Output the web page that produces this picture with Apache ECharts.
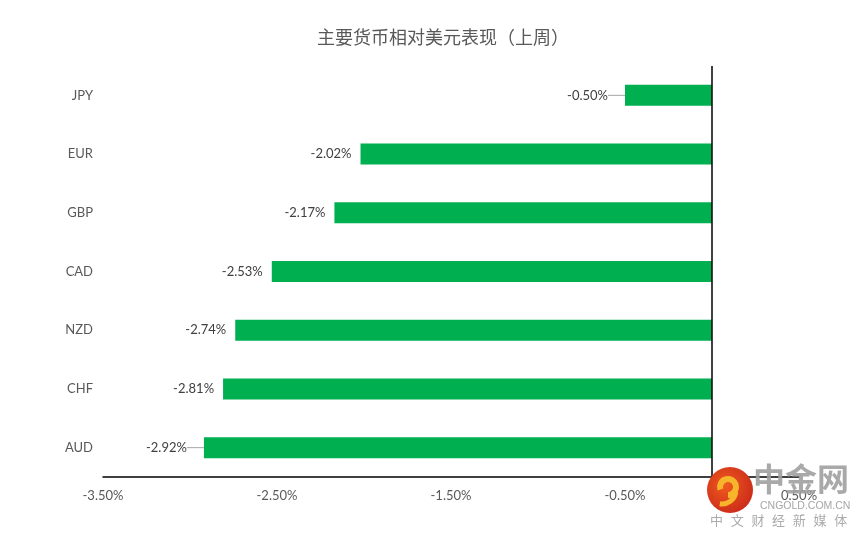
<!DOCTYPE html>
<html><head><meta charset="utf-8">
<script src="https://cdn.jsdelivr.net/npm/echarts@6/dist/echarts.min.js"></script>
<style>html,body{margin:0;padding:0;background:#fff}#c{width:864px;height:539px}</style>
</head><body><div id="c"></div>
<script>
var titleText = '主要货币相对美元表现（上周）';
var categories = ['AUD','CHF','NZD','CAD','GBP','EUR','JPY'];
var values = [-2.92,-2.81,-2.74,-2.53,-2.17,-2.02,-0.50];
var leaderCats = ['AUD','JPY'];
var xMin = -3.5, xMax = 0.5, xStep = 1;

var chart = echarts.init(document.getElementById('c'));
var font = 'Lato, "Noto Sans CJK SC", sans-serif';
var barData = values.map(function(v,i){
  var lead = leaderCats.indexOf(categories[i]) >= 0;
  return {value:v, label:{distance: lead ? 5 : 9}, labelLine:{show:lead}};
});
var wm = '中文财经新媒体'.split('').map(function(ch,i){
  return {type:'text',left:710+i*20.7,top:514,style:{text:ch,fontSize:13,fill:'#ababab',fontFamily:'"Noto Sans CJK SC", sans-serif'},z:100};
});
chart.setOption({
  animation:false,
  title:{text:titleText,left:438,top:23,textAlign:'center',
    textStyle:{fontSize:18,fontWeight:'normal',color:'#595959',fontFamily:'"Noto Sans CJK SC", sans-serif'}},
  grid:{left:103,right:65,top:66,bottom:62,containLabel:false},
  xAxis:{type:'value',min:xMin,max:xMax,interval:xStep,
    axisLine:{show:true,onZero:false,lineStyle:{color:'#000',width:1.5}},
    axisTick:{show:false},splitLine:{show:false},
    axisLabel:{margin:12,color:'#595959',fontSize:13,fontFamily:font,
      formatter:function(v){return v.toFixed(2)+'%';}}},
  yAxis:{type:'category',data:categories,
    axisLine:{show:false},axisTick:{show:false},
    axisLabel:{margin:10,color:'#595959',fontSize:13,fontFamily:font}},
  series:[{type:'bar',data:barData,barWidth:21,
    itemStyle:{color:'#00B050'},
    label:{show:true,position:'left',color:'#404040',fontSize:13,fontFamily:font,
      formatter:function(p){return p.value.toFixed(2)+'%';}},
    labelLayout:function(p){
      return leaderCats.indexOf(categories[p.dataIndex]) >= 0 ? {dx:-12} : {};
    },
    labelLine:{lineStyle:{color:'#a6a6a6',width:1}},
    markLine:{silent:true,symbol:'none',label:{show:false},
      lineStyle:{color:'#000',width:1.5,type:'solid'},data:[{xAxis:0}]}
  }],
  graphic:[
    {type:'circle',shape:{cx:730,cy:490,r:23},style:{fill:{type:'radial',x:0.4,y:0.4,r:0.7,colorStops:[{offset:0,color:'#f05a1e'},{offset:1,color:'#c8281a'}]}},z:100},
    {type:'arc',shape:{cx:728,cy:487,r:8,startAngle:Math.PI*0.9,endAngle:Math.PI*2.5},style:{stroke:'#f7b52c',lineWidth:6,fill:null},z:101},
    {type:'arc',shape:{cx:722,cy:490,r:14,startAngle:Math.PI*0.05,endAngle:Math.PI*0.55},style:{stroke:'#f7b52c',lineWidth:5,fill:null},z:101},
    {type:'text',left:753,top:463,style:{text:'中金网',fontSize:32,fontWeight:'bold',fill:'rgba(160,160,160,0.9)',fontFamily:'"Noto Sans CJK SC", sans-serif'},z:100},
    {type:'text',left:760,top:501,style:{text:'CNGOLD.COM.CN',fontSize:10.5,fill:'#a6a6a6',fontFamily:'"Liberation Sans", sans-serif'},z:100}
  ].concat(wm)
});
</script></body></html>
